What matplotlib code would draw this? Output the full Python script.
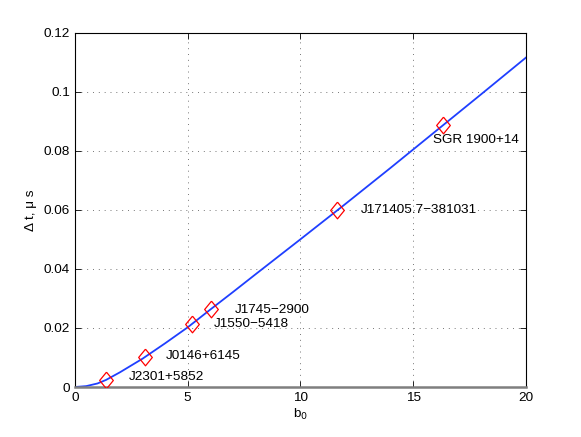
import matplotlib
matplotlib.use("Agg")
import matplotlib.pyplot as plt

# curve
b0_curve = [0, 0.5, 1.0, 1.38, 2, 3, 4, 5, 6, 7, 8, 10, 12, 14, 16, 18, 20]
dt_curve = [0, 0.0003, 0.0012, 0.0024, 0.0050, 0.0096, 0.0148, 0.0202, 0.0262,
            0.0321, 0.0381, 0.0500, 0.0620, 0.0742, 0.0866, 0.0990, 0.1115]

# sources
names = ["J2301+5852", "J0146+6145", "J1550\u22125418", "J1745\u22122900",
         "J171405.7\u2212381031", "SGR 1900+14"]
b0_src = [1.38, 3.11, 5.2, 6.04, 11.64, 16.31]
dt_src = [0.0024, 0.0101, 0.0213, 0.0264, 0.0598, 0.0886]
label_x = [2.4, 4.04, 6.18, 7.07, 12.67, 15.88]
label_y = [0.0033, 0.0105, 0.0212, 0.0261, 0.0598, 0.0836]

plt.rcParams['font.family'] = ['Liberation Sans', 'DejaVu Sans']
plt.rcParams['font.size'] = 9.7

fig = plt.figure(figsize=(5.81, 4.37), dpi=100)
ax = fig.add_axes([0.129, 0.1144, 0.776, 0.811])

diamond = [(0, 1), (0.82, 0), (0, -1), (-0.82, 0), (0, 1)]
ax.plot(b0_curve, dt_curve, color='#1f3fff', lw=1.3, zorder=2)
ax.plot(b0_src, dt_src, marker=diamond, ls='none', mfc='none', mec='red',
        ms=12, mew=0.9, zorder=3)

for name, x, y in zip(names, label_x, label_y):
    ax.text(x, y, name, ha='left', va='center')

ax.set_xlim(0, 20)
ax.set_ylim(0, 0.12)
ax.set_xticks([0, 5, 10, 15, 20])
ax.set_yticks([0, 0.02, 0.04, 0.06, 0.08, 0.1, 0.12])
ax.set_yticklabels(["0", "0.02", "0.04", "0.06", "0.08", "0.1", "0.12"])
ax.tick_params(direction='in', top=True, right=True, length=4, width=0.6)
ax.grid(True, linestyle=(0, (1, 5)), color='#777777', lw=0.7)
for s in ax.spines.values():
    s.set_linewidth(0.8)
ax.spines['bottom'].set_color('#7f7f7f')
ax.spines['bottom'].set_linewidth(1.8)

ax.set_xlabel("b$_0$", labelpad=2)
ax.set_ylabel("\u0394 t, \u03bc s", labelpad=5)

fig.savefig("out.png", dpi=100)
